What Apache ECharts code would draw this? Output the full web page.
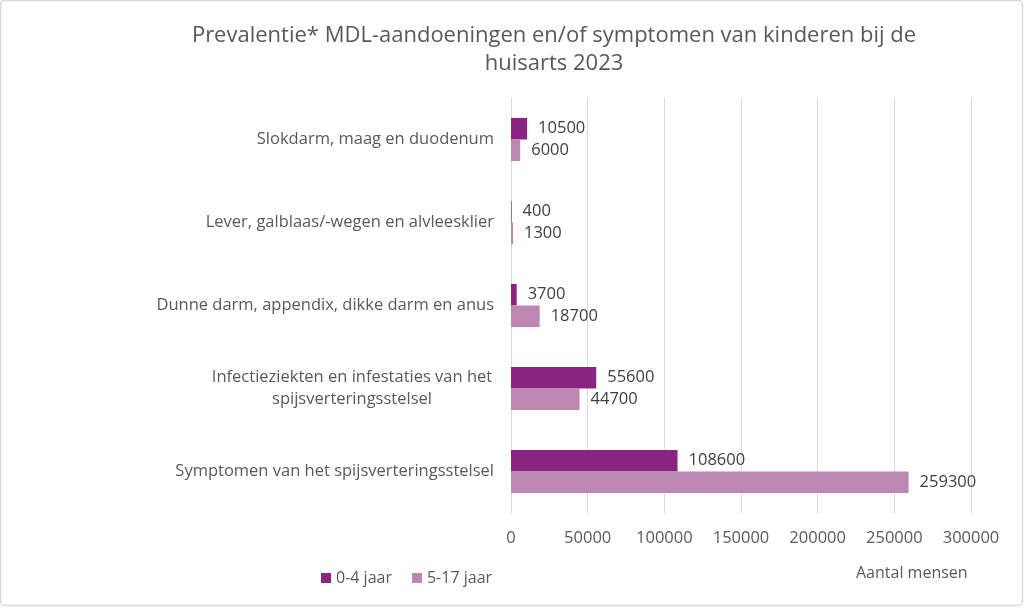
<!DOCTYPE html>
<html>
<head>
<meta charset="utf-8">
<script src="https://cdn.jsdelivr.net/npm/echarts@6/dist/echarts.min.js"></script>
<style>
  html, body { margin: 0; padding: 0; background: #fff; }
  #chart { width: 1024px; height: 608px; }
</style>
</head>
<body>
<div id="chart"></div>
<script>
// categorieën, van boven naar beneden
var categories = [
  'Slokdarm, maag en duodenum',
  'Lever, galblaas/-wegen en alvleesklier',
  'Dunne darm, appendix, dikke darm en anus',
  'Infectieziekten en infestaties van het\nspijsverteringsstelsel',
  'Symptomen van het spijsverteringsstelsel'
];
var seriesNames = ['0-4 jaar', '5-17 jaar'];
var young = [10500, 400, 3700, 55600, 108600];
var older = [6000, 1300, 18700, 44700, 259300];
var xTicks = { min: 0, max: 300000, interval: 50000 };

var font = '"Open Sans", "Noto Sans", sans-serif';
var fs = 16.5;
var chart = echarts.init(document.getElementById('chart'));

function barSeries(name, data, color) {
  return {
    name: name,
    type: 'bar',
    data: data,
    barGap: '0%',
    barCategoryGap: '48%',
    itemStyle: { color: color },
    label: {
      show: true,
      position: 'right',
      distance: 11,
      color: '#404040',
      fontSize: fs,
      fontFamily: font
    }
  };
}

chart.setOption({
  animation: false,
  textStyle: { fontFamily: font },
  title: {
    text: 'Prevalentie* MDL-aandoeningen en/of symptomen van kinderen bij de\nhuisarts 2023',
    left: 549,
    textAlign: 'center',
    top: 17,
    textStyle: { color: '#595959', fontSize: 22, fontWeight: 'normal', lineHeight: 28, fontFamily: font }
  },
  legend: {
    data: seriesNames,
    left: 316,
    top: 565,
    icon: 'rect',
    itemWidth: 10,
    itemHeight: 10,
    itemGap: 20,
    itemStyle: { borderWidth: 0 },
    textStyle: { color: '#595959', fontSize: 16, fontFamily: font }
  },
  grid: { left: 511, right: 53, top: 98, bottom: 95 },
  xAxis: {
    type: 'value',
    min: xTicks.min,
    max: xTicks.max,
    interval: xTicks.interval,
    axisLine: { show: false },
    axisTick: { show: false },
    splitLine: { lineStyle: { color: '#d9d9d9', width: 1 } },
    axisLabel: {
      color: '#595959', fontSize: fs, margin: 17, fontFamily: font,
      formatter: function (v) { return String(v); }
    }
  },
  yAxis: {
    type: 'category',
    data: categories,
    inverse: true,
    axisLine: { show: false },
    axisTick: { show: false },
    axisLabel: {
      color: '#595959',
      fontSize: fs,
      margin: 17,
      lineHeight: 22,
      fontFamily: font,
      formatter: function (v) {
        if (v.indexOf('\n') < 0) return v;
        return v.split('\n').map(function (s) { return '{c|' + s + '}'; }).join('\n');
      },
      rich: {
        c: { width: 284, align: 'center', color: '#595959', fontSize: fs, lineHeight: 22, fontFamily: font }
      }
    }
  },
  graphic: [
    {
      type: 'rect',
      shape: { x: 0.5, y: 0.5, width: 1022, height: 605, r: 4 },
      style: { fill: null, stroke: '#d9d9d9', lineWidth: 1.5 },
      silent: true
    },
    {
      type: 'text',
      left: 856,
      top: 565,
      style: { text: 'Aantal mensen', fill: '#595959', fontSize: 16, fontFamily: font }
    }
  ],
  series: [
    barSeries(seriesNames[0], young, '#8b2382'),
    barSeries(seriesNames[1], older, '#bd87b4')
  ]
});
</script>
</body>
</html>
